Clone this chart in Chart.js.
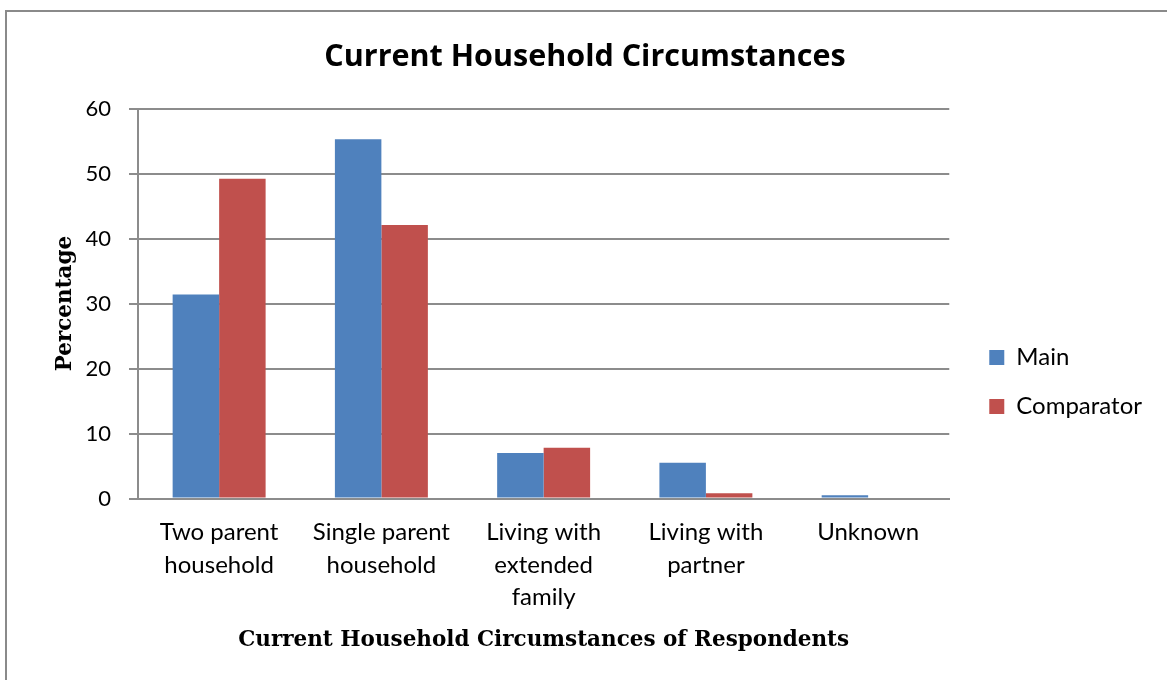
<!DOCTYPE html>
<html>
<head>
<meta charset="utf-8">
<script src="https://cdn.jsdelivr.net/npm/chart.js@4/dist/chart.umd.min.js"></script>
<style>
  html, body { margin: 0; padding: 0; background: #fff; overflow: hidden; }
  #wrap { position: relative; width: 1167px; height: 680px; }
  #frame { position: absolute; left: 5px; top: 10px; width: 1200px; height: 700px; border: 2px solid #8a8a8a; box-sizing: border-box; pointer-events: none; }
  canvas { position: absolute; left: 0; top: 0; }
</style>
</head>
<body>
<div id="wrap">
  <canvas id="c" width="1167" height="680"></canvas>
  <div id="frame"></div>
</div>
<script>
const categories = [
  ['Two parent', 'household'],
  ['Single parent', 'household'],
  ['Living with', 'extended', 'family'],
  ['Living with', 'partner'],
  ['Unknown']
];
const mainValues = [31.4, 55.3, 7.0, 5.5, 0.5];
const comparatorValues = [49.2, 42.1, 7.8, 0.8, 0];
const yTicks = [0, 10, 20, 30, 40, 50, 60];

const sansFont = 'Lato, "Open Sans", sans-serif';
const serifFont = '"DejaVu Serif", serif';
const gridColor = '#8c8c8c';

new Chart(document.getElementById('c'), {
  type: 'bar',
  data: {
    labels: categories,
    datasets: [
      { label: 'Main', data: mainValues, backgroundColor: '#4F81BD', borderWidth: 0,
        categoryPercentage: 0.573, barPercentage: 1.0 },
      { label: 'Comparator', data: comparatorValues, backgroundColor: '#C0504D', borderWidth: 0,
        categoryPercentage: 0.573, barPercentage: 1.0 }
    ]
  },
  options: {
    responsive: false,
    animation: false,
    devicePixelRatio: 1,
    layout: { padding: { left: 18, right: 15, top: 0, bottom: 0 } },
    plugins: {
      title: {
        display: true,
        text: 'Current Household Circumstances',
        color: '#000',
        font: { family: '"Open Sans", Lato, sans-serif', size: 30.5, weight: 'bold', lineHeight: 1.2 },
        padding: { top: 39, bottom: 33 }
      },
      legend: {
        display: true,
        position: 'right',
        align: 'center',
        title: { display: true, text: ' ', font: { size: 10, lineHeight: 1 }, padding: { top: 74, bottom: 0 } },
        labels: {
          color: '#000',
          font: { family: sansFont, size: 24 },
          boxWidth: 15,
          boxHeight: 15,
          padding: 25
        }
      },
      tooltip: { enabled: false }
    },
    scales: {
      x: {
        grid: { display: false },
        border: { display: true, color: gridColor, width: 2 },
        ticks: {
          color: '#000',
          font: { family: sansFont, size: 24, lineHeight: 1.354 },
          padding: 10,
          maxRotation: 0,
          autoSkip: false
        },
        title: {
          display: true,
          text: 'Current Household Circumstances of Respondents',
          color: '#000',
          font: { family: serifFont, size: 21.5, weight: 'bold', lineHeight: 1.2 },
          padding: { top: 0, bottom: 27 }
        },
        afterFit: s => { s.height = 181.5; }
      },
      y: {
        min: 0,
        max: 60,
        afterBuildTicks: s => { s.ticks = yTicks.map(v => ({ value: v })); },
        grid: { color: gridColor, lineWidth: 2, drawTicks: true, tickLength: 9 },
        border: { display: true, color: gridColor, width: 2 },
        ticks: {
          color: '#000',
          font: { family: sansFont, size: 22 },
          padding: 18
        },
        title: {
          display: true,
          text: 'Percentage',
          color: '#000',
          font: { family: serifFont, size: 21.5, weight: 'bold', lineHeight: 1.2 },
          padding: { top: 35, bottom: 0 }
        },
        afterFit: s => { s.width = 120; }
      },
      yPad: {
        type: 'linear',
        position: 'right',
        display: true,
        grid: { display: false },
        border: { display: false },
        ticks: { display: false },
        afterFit: s => { s.width = 15; }
      }
    }
  }
});
</script>
</body>
</html>
